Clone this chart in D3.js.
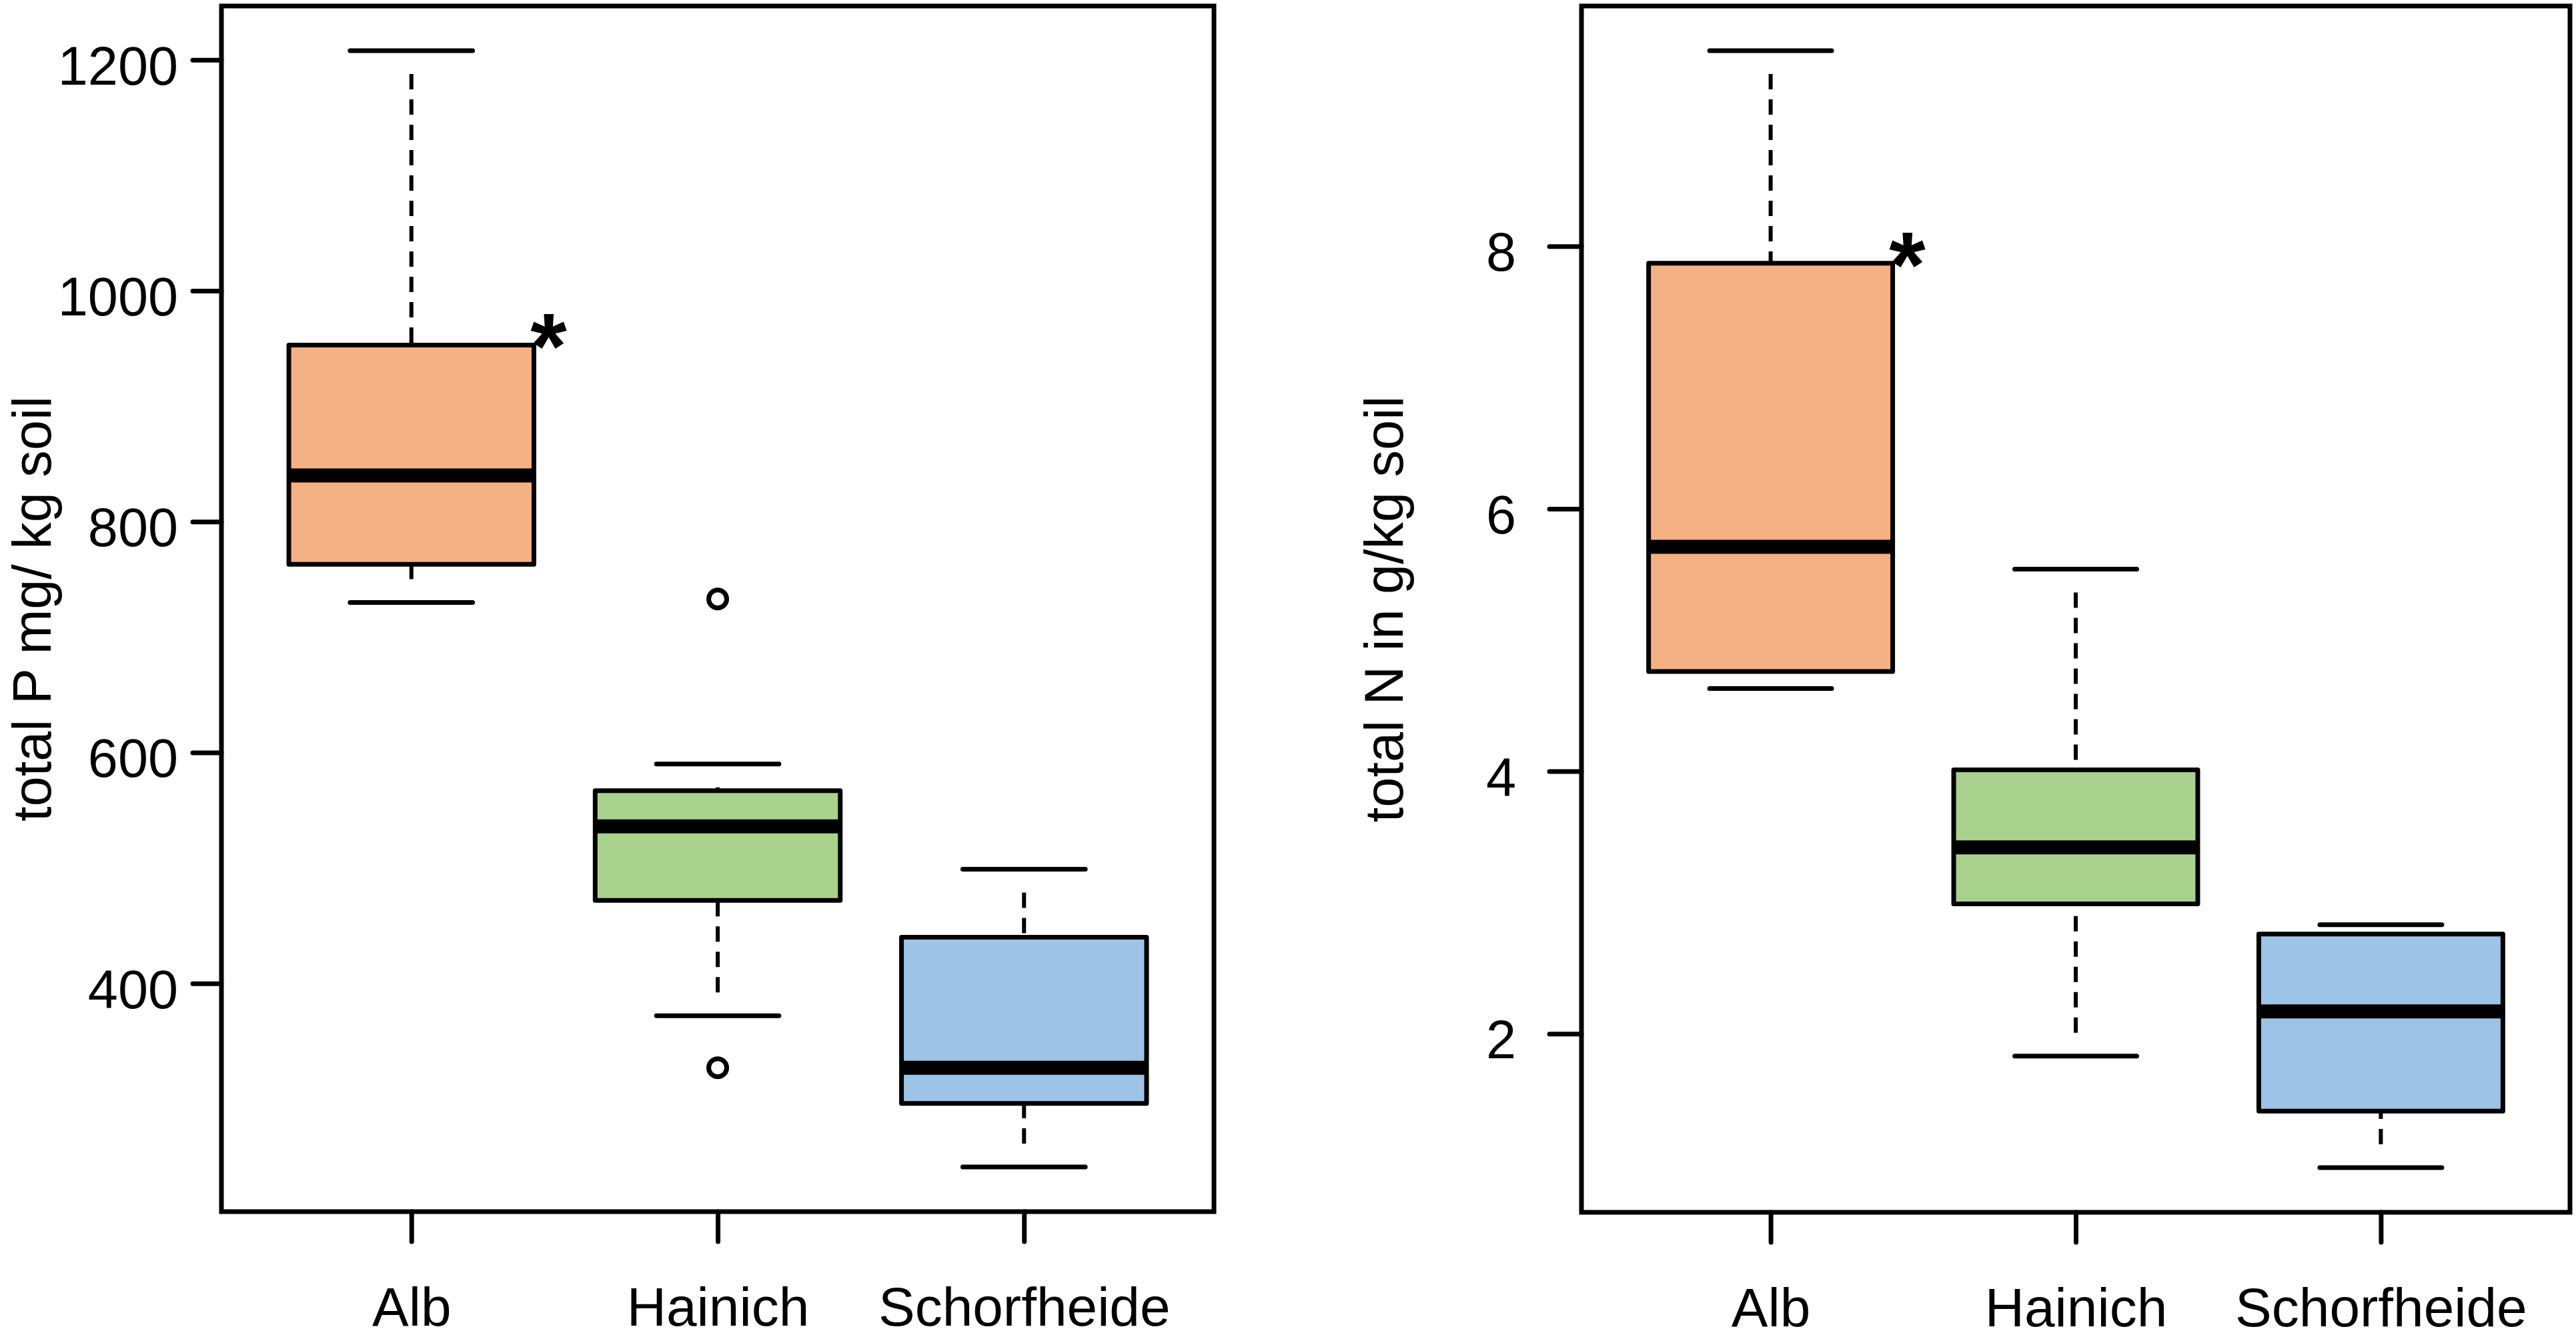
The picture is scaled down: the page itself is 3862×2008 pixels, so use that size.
<!DOCTYPE html>
<html>
<head>
<meta charset="utf-8">
<script src="https://cdn.jsdelivr.net/npm/d3@7"></script>
<style>
  html, body { margin: 0; padding: 0; background: #fff; }
  svg { display: block; }
  text { font-family: "Liberation Sans", Arial, Helvetica, sans-serif; fill: #000; }
</style>
</head>
<body>
<svg id="chart" width="3862" height="2008"></svg>
<script>
// ---------- DATA ----------
const sites = ["Alb", "Hainich", "Schorfheide"];
const siteFill = ["#F4B183", "#A9D18E", "#9DC3E6"];
const signif = ["*", "", ""];

// total P, mg/kg soil
const pLower   = [730, 372, 241];
const pQ1      = [763, 472, 296];
const pMedian  = [840, 536, 327];
const pQ3      = [953, 567, 440];
const pUpper   = [1208, 590, 499];
const pOutliers = [[], [733, 327], []];
const pTicks = [400, 600, 800, 1000, 1200];

// total N, g/kg soil
const nLower   = [4.63, 1.83, 0.98];
const nQ1      = [4.76, 2.99, 1.41];
const nMedian  = [5.71, 3.42, 2.17];
const nQ3      = [7.87, 4.01, 2.76];
const nUpper   = [9.49, 5.54, 2.83];
const nOutliers = [[], [], []];
const nTicks = [2, 4, 6, 8];

// ---------- LAYOUT ----------
const FONT = 81;
const LW = 7;
const svg = d3.select("#chart");

function toBoxes(lo, q1, med, q3, hi, out){
  return sites.map((s, i) => ({
    site: s, i, fill: siteFill[i], mark: signif[i],
    lo: lo[i], q1: q1[i], med: med[i], q3: q3[i], hi: hi[i], out: out[i]
  }));
}

// R-style axis range: data extent padded by 4% on each side
function padded(lo, hi){
  const d = (hi - lo) * 0.04;
  return [lo - d, hi + d];
}

function drawPanel(cfg, boxes){
  const g = svg.append("g");

  const allVals = boxes.flatMap(b => [b.lo, b.hi, ...b.out]);
  const y = d3.scaleLinear()
    .domain(padded(d3.min(allVals), d3.max(allVals)))
    .range([cfg.bottom, cfg.top]);
  const x = d3.scaleLinear()
    .domain(padded(0.5, sites.length + 0.5))
    .range([cfg.left, cfg.right]);

  const half = 0.4, capHalf = 0.2;   // boxwex 0.8, staplewex 0.5
  const bw = x(1 + half) - x(1);
  const cw = x(1 + capHalf) - x(1);

  // whiskers (dash pattern starts at the whisker end)
  const dash = "0 35 " + d3.range(40).map(() => "23 15").join(" ");
  const wh = g.append("g").attr("stroke", "#000").attr("stroke-width", LW - 1)
    .attr("stroke-dasharray", dash).attr("fill", "none");
  wh.selectAll("line.up").data(boxes).join("line")
    .attr("x1", d => x(d.i + 1)).attr("x2", d => x(d.i + 1))
    .attr("y1", d => y(d.hi)).attr("y2", d => y(d.q3));
  wh.selectAll("line.dn").data(boxes).join("line")
    .attr("x1", d => x(d.i + 1)).attr("x2", d => x(d.i + 1))
    .attr("y1", d => y(d.lo)).attr("y2", d => y(d.q1));

  // staples
  const caps = g.append("g").attr("stroke", "#000").attr("stroke-width", LW)
    .attr("stroke-linecap", "round");
  boxes.forEach(d => {
    [d.hi, d.lo].forEach(v => {
      caps.append("line")
        .attr("x1", x(d.i + 1) - cw).attr("x2", x(d.i + 1) + cw)
        .attr("y1", y(v)).attr("y2", y(v));
    });
  });

  // boxes
  g.append("g").selectAll("rect").data(boxes).join("rect")
    .attr("x", d => x(d.i + 1) - bw)
    .attr("width", 2 * bw)
    .attr("y", d => y(d.q3))
    .attr("height", d => y(d.q1) - y(d.q3))
    .attr("fill", d => d.fill)
    .attr("stroke", "#000").attr("stroke-width", LW)
    .attr("stroke-linejoin", "round");

  // medians
  g.append("g").selectAll("line").data(boxes).join("line")
    .attr("x1", d => x(d.i + 1) - bw + 1).attr("x2", d => x(d.i + 1) + bw - 1)
    .attr("y1", d => y(d.med)).attr("y2", d => y(d.med))
    .attr("stroke", "#000").attr("stroke-width", 21);

  // outliers
  g.append("g").selectAll("circle")
    .data(boxes.flatMap(b => b.out.map(v => ({i: b.i, v}))))
    .join("circle")
    .attr("cx", d => x(d.i + 1)).attr("cy", d => y(d.v)).attr("r", 13.5)
    .attr("fill", "none").attr("stroke", "#000").attr("stroke-width", LW);

  // significance marks at the upper right corner of the box
  g.append("g").selectAll("text").data(boxes.filter(b => b.mark)).join("text")
    .attr("x", d => x(d.i + 1) + bw + 22)
    .attr("y", d => y(d.q3) - 28 + 78)
    .attr("text-anchor", "middle")
    .attr("font-size", 140).attr("font-weight", "bold")
    .text(d => d.mark);

  // frame
  g.append("rect")
    .attr("x", cfg.left).attr("y", cfg.top)
    .attr("width", cfg.right - cfg.left).attr("height", cfg.bottom - cfg.top)
    .attr("fill", "none").attr("stroke", "#000").attr("stroke-width", LW);

  // y axis
  const ya = g.append("g").attr("transform", `translate(${cfg.left},0)`)
    .call(d3.axisLeft(y).tickValues(cfg.ticks).tickFormat(d3.format("d"))
      .tickSize(cfg.yTick).tickPadding(cfg.yPad));
  ya.select(".domain").remove();
  ya.selectAll("line").attr("stroke", "#000").attr("stroke-width", LW).attr("stroke-linecap", "round");
  ya.selectAll("text").attr("font-size", FONT).attr("dy", "0.45em")
    .style("font-family", "'Liberation Sans', Arial, sans-serif");

  // x axis
  const xa = g.append("g").attr("transform", `translate(0,${cfg.bottom})`)
    .call(d3.axisBottom(x).tickValues(sites.map((s, i) => i + 1))
      .tickFormat(v => sites[v - 1]).tickSize(45).tickPadding(68));
  xa.select(".domain").remove();
  xa.selectAll("line").attr("stroke", "#000").attr("stroke-width", LW).attr("stroke-linecap", "round");
  xa.selectAll("text").attr("font-size", 82)
    .style("font-family", "'Liberation Sans', Arial, sans-serif");

  // y title
  g.append("text")
    .attr("transform", `translate(${cfg.titleX},${(cfg.top + cfg.bottom) / 2}) rotate(-90)`)
    .attr("text-anchor", "middle")
    .attr("font-size", 81)
    .text(cfg.title);
}

drawPanel(
  {left: 332, right: 1820, top: 9, bottom: 1817, yTick: 43, yPad: 22,
   titleX: 76, ticks: pTicks, title: "total P mg/ kg soil"},
  toBoxes(pLower, pQ1, pMedian, pQ3, pUpper, pOutliers)
);
drawPanel(
  {left: 2371, right: 3853, top: 9, bottom: 1818, yTick: 48, yPad: 50,
   titleX: 2103, ticks: nTicks, title: "total N in g/kg soil"},
  toBoxes(nLower, nQ1, nMedian, nQ3, nUpper, nOutliers)
);
</script>
</body>
</html>
